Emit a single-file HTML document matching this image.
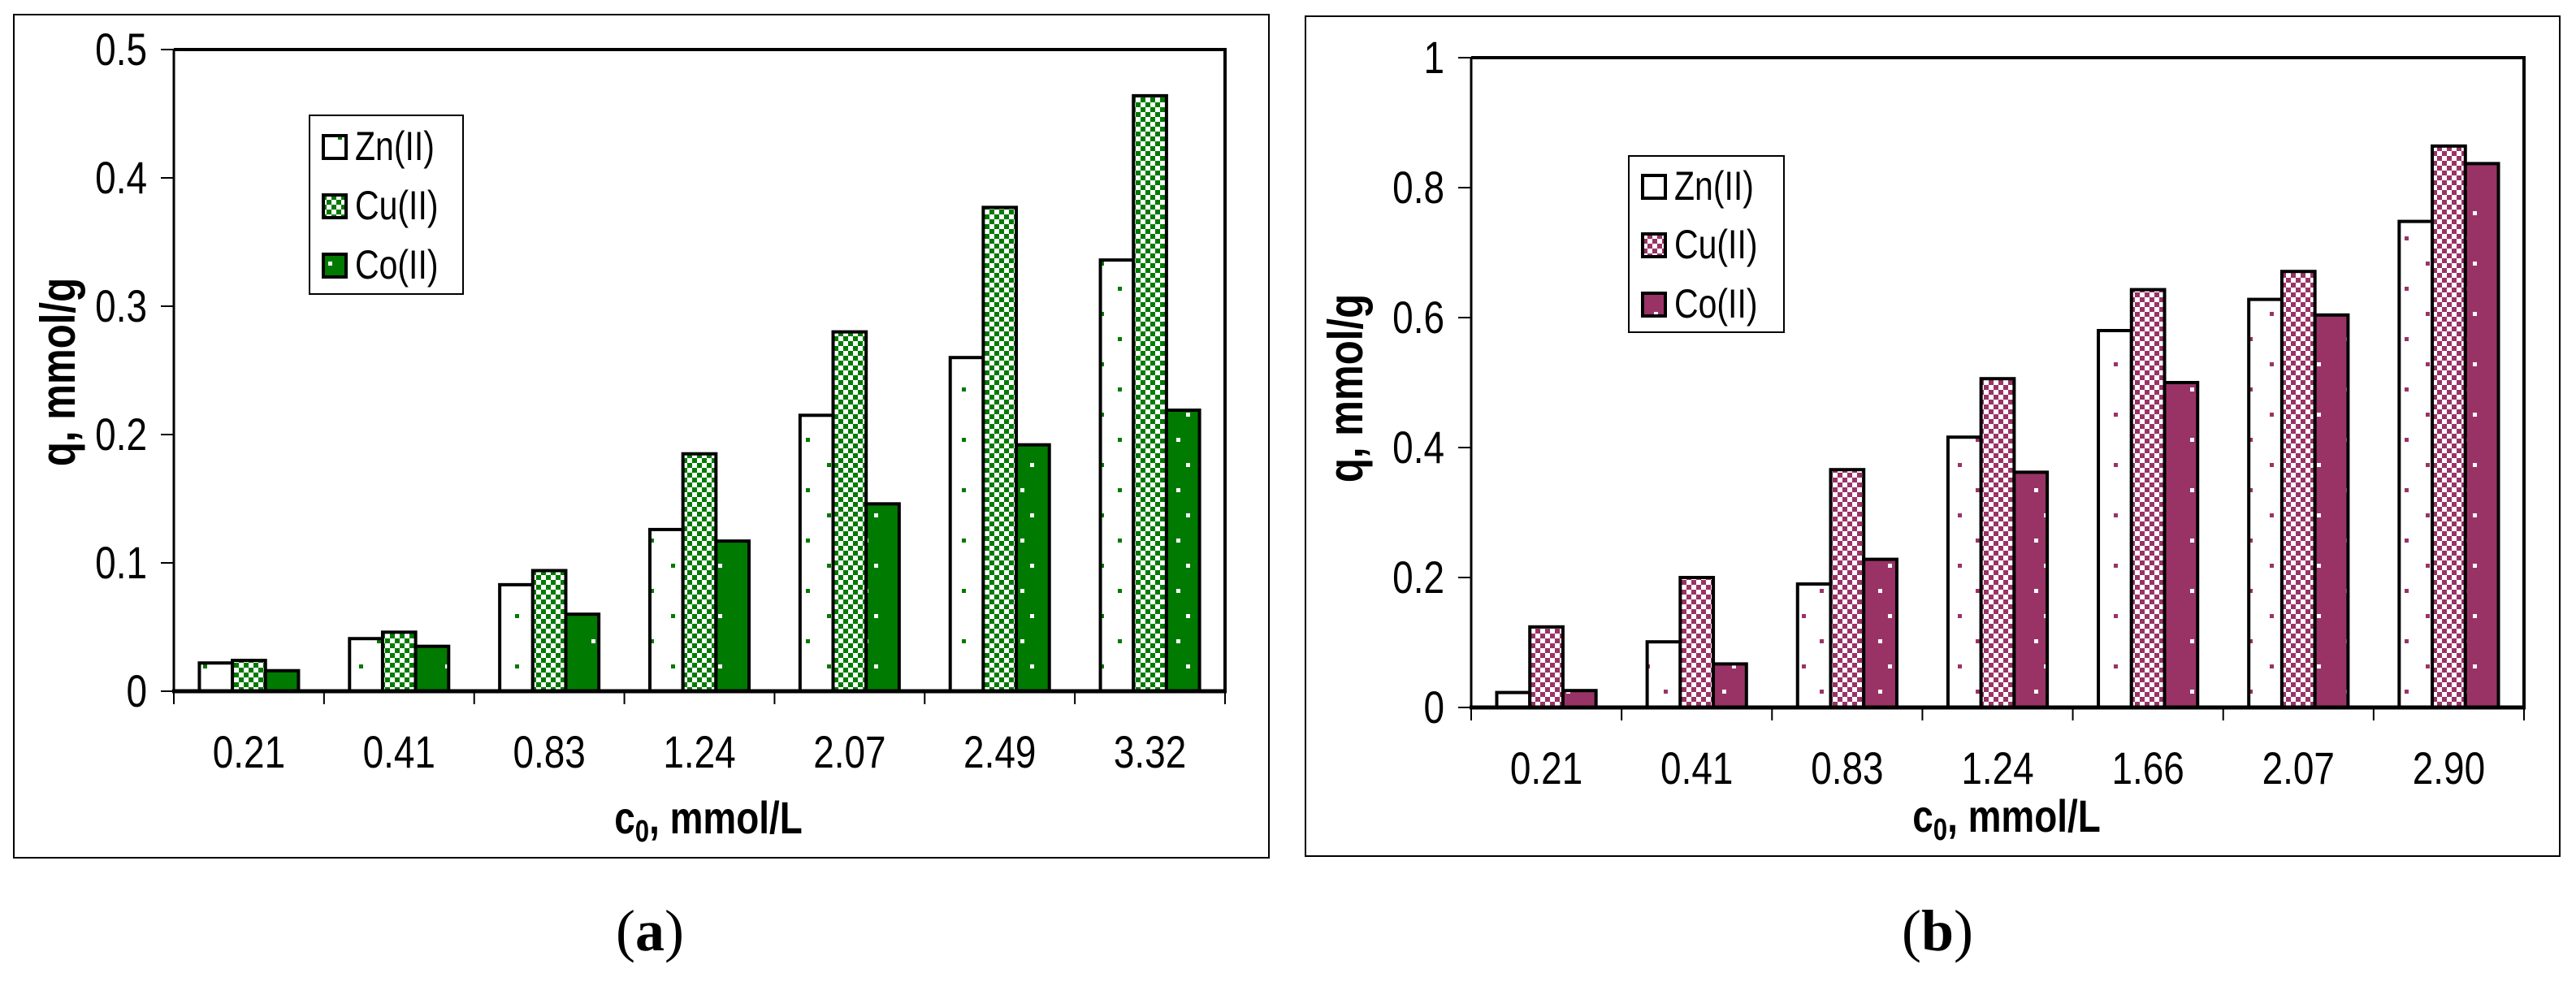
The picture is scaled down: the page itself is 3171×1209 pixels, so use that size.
<!DOCTYPE html>
<html><head><meta charset="utf-8">
<style>
html,body{margin:0;padding:0;background:#fff;}
svg{display:block;}
text{font-family:"Liberation Sans Narrow","Liberation Sans",sans-serif;}
</style></head>
<body>
<svg id="fig" width="3171" height="1209" viewBox="0 0 3171 1209" xmlns="http://www.w3.org/2000/svg">
<defs>
<pattern id="chkG" width="12" height="12" patternUnits="userSpaceOnUse"><rect width="12" height="12" fill="#fff"/><rect width="6" height="6" fill="#007a00"/><rect x="6" y="6" width="6" height="6" fill="#007a00"/></pattern>
<pattern id="chkM" width="12" height="12" patternUnits="userSpaceOnUse"><rect width="12" height="12" fill="#fff"/><rect width="6" height="6" fill="#993366"/><rect x="6" y="6" width="6" height="6" fill="#993366"/></pattern>
<pattern id="dotWG" width="48" height="62" patternUnits="userSpaceOnUse"><rect width="48" height="62" fill="#fff"/><rect x="10" y="12" width="5" height="5" fill="#007a00"/><rect x="32" y="43" width="5" height="5" fill="#007a00"/></pattern>
<pattern id="dotWM" width="48" height="62" patternUnits="userSpaceOnUse"><rect width="48" height="62" fill="#fff"/><rect x="10" y="12" width="5" height="5" fill="#993366"/><rect x="32" y="43" width="5" height="5" fill="#993366"/></pattern>
<pattern id="dotG" width="48" height="62" patternUnits="userSpaceOnUse"><rect width="48" height="62" fill="#007a00"/><rect x="20" y="12" width="5" height="5" fill="#fff"/><rect x="8" y="43" width="5" height="5" fill="#fff"/></pattern>
<pattern id="dotM" width="48" height="62" patternUnits="userSpaceOnUse"><rect width="48" height="62" fill="#993366"/><rect x="20" y="12" width="5" height="5" fill="#fff"/><rect x="8" y="43" width="5" height="5" fill="#fff"/></pattern>
</defs>
</svg>
<script>
const catsA = ["0.21","0.41","0.83","1.24","2.07","2.49","3.32"];
const znA = [0.022,0.041,0.083,0.126,0.215,0.260,0.336];
const cuA = [0.024,0.046,0.094,0.185,0.280,0.377,0.464];
const coA = [0.016,0.035,0.060,0.117,0.146,0.192,0.219];
const ticksA = ["0","0.1","0.2","0.3","0.4","0.5"];
const catsB = ["0.21","0.41","0.83","1.24","1.66","2.07","2.90"];
const znB = [0.023,0.101,0.190,0.416,0.580,0.628,0.748];
const cuB = [0.124,0.200,0.366,0.506,0.643,0.671,0.864];
const coB = [0.026,0.067,0.228,0.362,0.500,0.604,0.837];
const ticksB = ["0","0.2","0.4","0.6","0.8","1"];
const seriesNames = ["Zn(II)","Cu(II)","Co(II)"];

const NS="http://www.w3.org/2000/svg";
const svg=document.getElementById('fig');
const SX=0.82;
function mk(tag,attrs,parent){const e=document.createElementNS(NS,tag);for(const k in attrs)e.setAttribute(k,attrs[k]);(parent||svg).appendChild(e);return e;}
function txt(x,y,attrs,parent){attrs.x=0;attrs.y=0;attrs.transform=`translate(${x},${y}) scale(${SX},1)`;return mk('text',attrs,parent);}

function panel(cfg){
  const g=mk('g',{});
  
  
  const fr=mk('rect',{x:cfg.fx,y:cfg.fy,width:cfg.fw,height:cfg.fh,fill:'#fff',stroke:'#000','stroke-width':2},g);
  
  
  const L=cfg.L,R=cfg.R,T=cfg.T,B=cfg.B,ymax=cfg.ymax;
  const n=cfg.cats.length, cw=(R-L)/n;
  const ys=v=>B-(v/ymax)*(B-T);
  const xs=i=>L+i*cw;
  const pb=mk('path',{d:`M${L} ${T} H${R} V${B}`,fill:'none',stroke:'#000','stroke-width':4},g);
  
  
  cfg.ticks.forEach(t=>{
    const y=ys(parseFloat(t));
    const tl=mk('line',{x1:L-16,x2:L,y1:y,y2:y,stroke:'#000','stroke-width':2},g);
    
    
    const tx=txt(L-33,y+19,{'text-anchor':'end','font-size':56},g);
    tx.textContent=t;
    
    
  });
  const fills=cfg.fills, vals=[cfg.zn,cfg.cu,cfg.co];
  const bw=cw*0.22, off=(cw-3*bw)/2;
  for(let i=0;i<n;i++){
    for(let s=0;s<3;s++){
      const v=vals[s][i];
      const x=xs(i)+off+s*bw, y=ys(v);
      const r=mk('rect',{x:x,y:y,width:bw,height:B-y,fill:fills[s],stroke:'#000','stroke-width':4},g);
      
      
    }
  }
  const ya=mk('line',{x1:L,x2:L,y1:T,y2:B,stroke:'#000','stroke-width':3},g);
  
  
  const xa=mk('line',{x1:L-2,x2:R+2,y1:B,y2:B,stroke:'#000','stroke-width':5},g);
  
  
  for(let i=0;i<=n;i++){
    const t=mk('line',{x1:xs(i),x2:xs(i),y1:B,y2:B+16,stroke:'#000','stroke-width':2},g);
    
    
  }
  cfg.cats.forEach((c,i)=>{
    const t=txt(xs(i)+cw/2,cfg.xlY,{'text-anchor':'middle','font-size':56},g);
    t.textContent=c;
    
    
  });
  const xt=txt(cfg.xtX,cfg.xtY,{'text-anchor':'middle','font-size':56,'font-weight':'bold'},g);
  xt.innerHTML='c<tspan font-size="38" dy="10">0</tspan><tspan dy="-10">, mmol/L</tspan>';
  
  
  const yt=mk('text',{x:0,y:0,'text-anchor':'middle','font-size':60,'font-weight':'bold',transform:`translate(${cfg.ytX},${cfg.ytY}) rotate(-90) scale(${SX},1)`},g);
  yt.textContent='q, mmol/g';
  
  
  const lg=mk('g',{},g);
  
  
  mk('rect',{x:cfg.lx,y:cfg.ly,width:cfg.lw,height:cfg.lh,fill:'#fff',stroke:'#000','stroke-width':2},lg);
  seriesNames.forEach((nm,s)=>{
    const by=cfg.lbase[s];
    const e=mk('g',{},lg);
    
    
    mk('rect',{x:cfg.lx+17,y:by-30,width:28,height:28,fill:fills[s],stroke:'#000','stroke-width':4},e);
    const t=txt(cfg.lx+56,by,{'font-size':50},e);
    t.textContent=nm;
  });
  const cap=mk('text',{x:cfg.capX,y:1170,'text-anchor':'middle','font-size':72,style:'font-family:"Liberation Serif",serif'},g);
  cap.innerHTML='(<tspan font-weight="bold">'+cfg.cap+'</tspan>)';
  
  
}

panel({name:'chart-a',fx:17,fy:18,fw:1545,fh:1038,L:214,R:1508,T:61,B:851,ymax:0.5,
  cats:catsA,zn:znA,cu:cuA,co:coA,ticks:ticksA,fills:['url(#dotWG)','url(#chkG)','url(#dotG)'],
  xlY:945,xtX:872,xtY:1026,ytX:92,ytY:458,lx:381,ly:142,lw:189,lh:220,lbase:[197,270,343],capX:800,cap:'a'});
panel({name:'chart-b',fx:1607,fy:20,fw:1544,fh:1034,L:1811,R:3107,T:71,B:871,ymax:1,
  cats:catsB,zn:znB,cu:cuB,co:coB,ticks:ticksB,fills:['url(#dotWM)','url(#chkM)','url(#dotM)'],
  xlY:965,xtX:2470,xtY:1024,ytX:1677,ytY:478,lx:2005,ly:192,lw:191,lh:217,lbase:[246,318,391],capX:2385,cap:'b'});
</script>
</body></html>
